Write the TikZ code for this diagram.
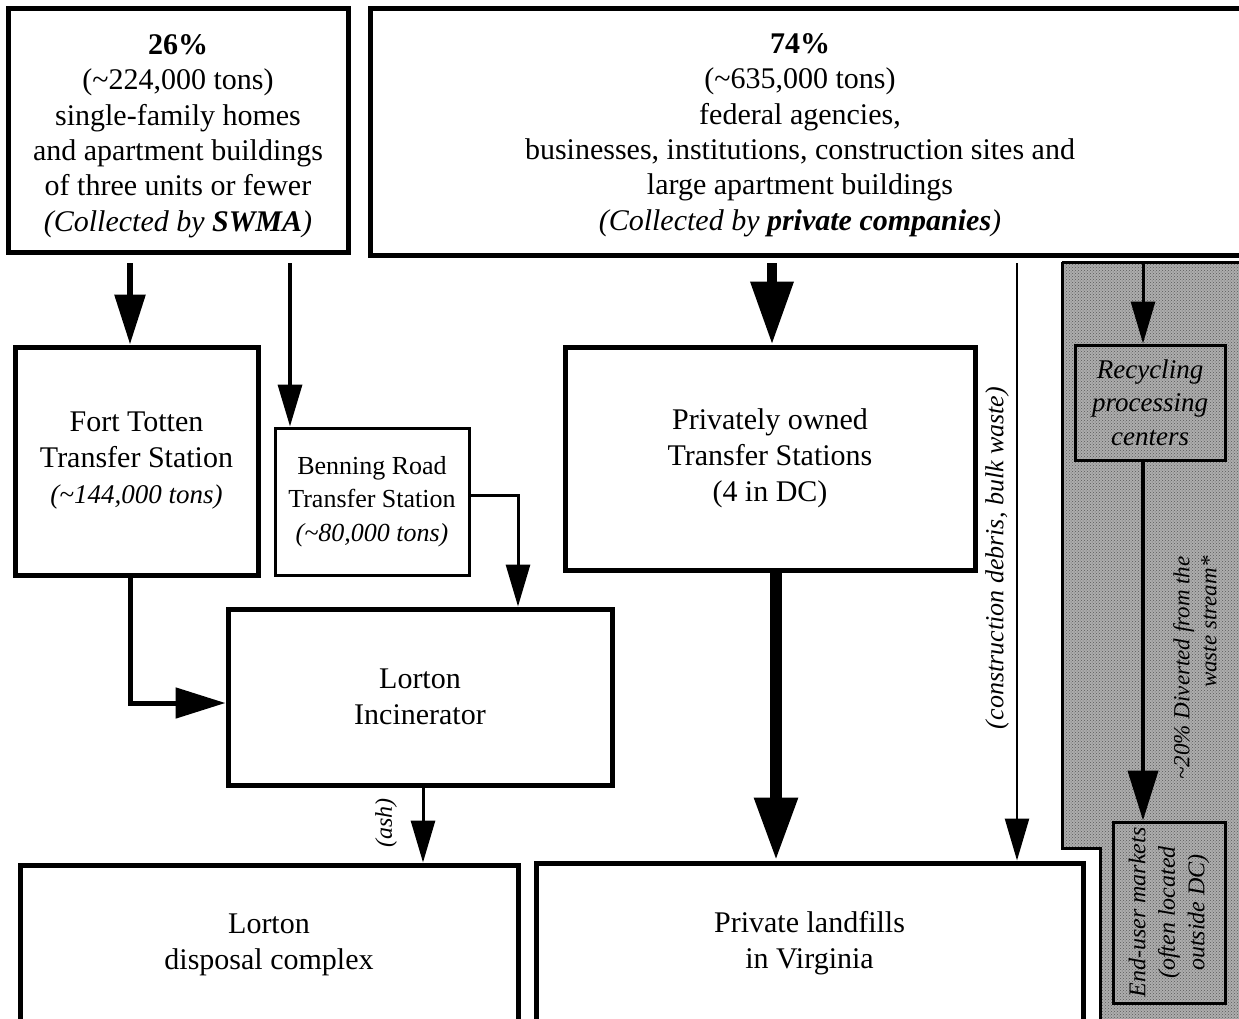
\documentclass[tikz,border=0pt]{standalone}
\usepackage{fontspec}
\setmainfont{Liberation Serif}
\usetikzlibrary{arrows.meta,patterns,calc}
\begin{document}
\begin{tikzpicture}[x=1pt,y=-1pt,
  box/.style={draw=black,line width=5pt,fill=white,inner sep=0pt,align=center},
  thinbox/.style={draw=black,line width=3pt,fill=white,inner sep=0pt,align=center},
  graybox/.style={draw=black,line width=3pt,inner sep=0pt,align=center},
  bigfont/.style={font=\fontsize{30}{36}\selectfont},
  topfont/.style={font=\fontsize{30}{35.4}\selectfont},
  midfont/.style={font=\fontsize{26}{33.5}\selectfont},
  bigtip/.style={-{Triangle[length=63pt,width=41pt]}},
  medtip/.style={-{Triangle[length=50pt,width=30pt]}},
  smalltip/.style={-{Triangle[length=42pt,width=24pt]}},
  lbl/.style={font=\fontsize{26}{30}\selectfont\itshape,rotate=90,inner sep=0pt},
]
\useasboundingbox (0,0) rectangle (1239,1019);
\clip (0,0) rectangle (1239,1019);

% gray recycling panel
\path[fill=black!32,postaction={pattern=crosshatch dots,pattern color=black!65}]
  (1062,262) -- (1260,262) -- (1260,1030) -- (1100,1030) -- (1100,848) -- (1062,848) -- cycle;
\draw[line width=3pt] (1062,262) -- (1260,262) (1260,1030) -- (1100,1030) -- (1100,848) -- (1062,848) -- (1062,262);

% top boxes
\node[box,minimum width=340pt,minimum height=243pt] (A) at (178,130.5) {};
\node[topfont,align=center,inner sep=0pt] (Atxt) at (178,136)
  {\textbf{26\%}\\(\textasciitilde224,000 tons)\\single-family homes\\and apartment buildings\\of three units or fewer\\\textit{(Collected by \textbf{SWMA})}};
\node[box,minimum width=890pt,minimum height=246pt] (B) at (815,132) {};
\node[topfont,align=center,inner sep=0pt] (Btxt) at (800,135)
  {\textbf{74\%}\\(\textasciitilde635,000 tons)\\federal agencies,\\businesses, institutions, construction sites and\\large apartment buildings\\\textit{(Collected by \textbf{private companies})}};

% middle boxes
\node[box,bigfont,minimum width=243pt,minimum height=228pt] (FT) at (136.5,461)
  {Fort Totten\\Transfer Station\\{\fontsize{27}{33}\selectfont\itshape (\textasciitilde144,000 tons)}};
\node[thinbox,midfont,minimum width=194pt,minimum height=147pt] (BR) at (372,501.5)
  {Benning Road\\Transfer Station\\\textit{(\textasciitilde80,000 tons)}};
\node[box,bigfont,minimum width=410pt,minimum height=223pt] (PT) at (770,458.5)
  {Privately owned\\Transfer Stations\\(4 in DC)};
\node[box,bigfont,minimum width=384pt,minimum height=176pt] (LI) at (420,697)
  {Lorton\\Incinerator};

% bottom boxes
\node[box,bigfont,minimum width=498pt,minimum height=159pt] (LD) at (269,944.5)
  {Lorton\\disposal complex};
\node[box,bigfont,minimum width=547pt,minimum height=161pt] (PL) at (809.5,943.5)
  {Private landfills\\in Virginia};

% recycling boxes
\node[graybox,minimum width=150pt,minimum height=115pt,font=\fontsize{27}{33.5}\selectfont\itshape] (RC) at (1150,402.5)
  {Recycling\\processing\\centers};
\node[graybox,minimum width=112pt,minimum height=181pt] (EU) at (1169,912.5) {};
\node[rotate=90,align=center,inner sep=0pt,font=\fontsize{24}{29.5}\selectfont\itshape] (EUtxt) at (EU.center)
  {End-user markets\\(often located\\outside DC)};

% connector start points
\coordinate (a1) at (130,263);
\coordinate (a2) at (290,263);
\coordinate (b1) at (772,263);
\coordinate (b2) at (1017,263);
\coordinate (ft1) at (130,703);
\coordinate (bn1) at (518,495);
\coordinate (pt1) at (776,0);
\coordinate (li1) at (423,0);
\coordinate (r1) at (1143,264);

% connectors
\draw[line width=6pt,medtip] (a1) -- (a1 |- FT.north);
\draw[line width=3.5pt,smalltip] (a2) -- (a2 |- BR.north);
\draw[line width=10pt,bigtip] (b1) -- (b1 |- PT.north);
\draw[line width=2.5pt,smalltip] (b2) -- (b2 |- PL.north);
\draw[line width=5pt,medtip] (ft1 |- FT.south) -- (ft1) -- (ft1 -| LI.west);
\draw[line width=3pt,smalltip] (bn1 -| BR.east) -- (bn1) -- (bn1 |- LI.north);
\draw[line width=12pt,bigtip] (pt1 |- PT.south) -- (pt1 |- PL.north);
\draw[line width=3pt,smalltip] (li1 |- LI.south) -- (li1 |- LD.north);
\draw[line width=3pt,smalltip] (r1) -- (r1 |- RC.north);
\draw[line width=4pt,medtip] (r1 |- RC.south) -- (r1 |- EU.north);

% labels
\node[lbl] (cdl) at (997,558) {(construction debris, bulk waste)};
\node[lbl,font=\fontsize{24}{28}\selectfont\itshape] (ashl) at (386,823) {(ash)};
\node[rotate=90,align=right,inner sep=0pt,font=\fontsize{23}{27}\selectfont\itshape] (divl) at (1195,668)
  {\textasciitilde20\% Diverted from the\\waste stream*};
\end{tikzpicture}
\end{document}
